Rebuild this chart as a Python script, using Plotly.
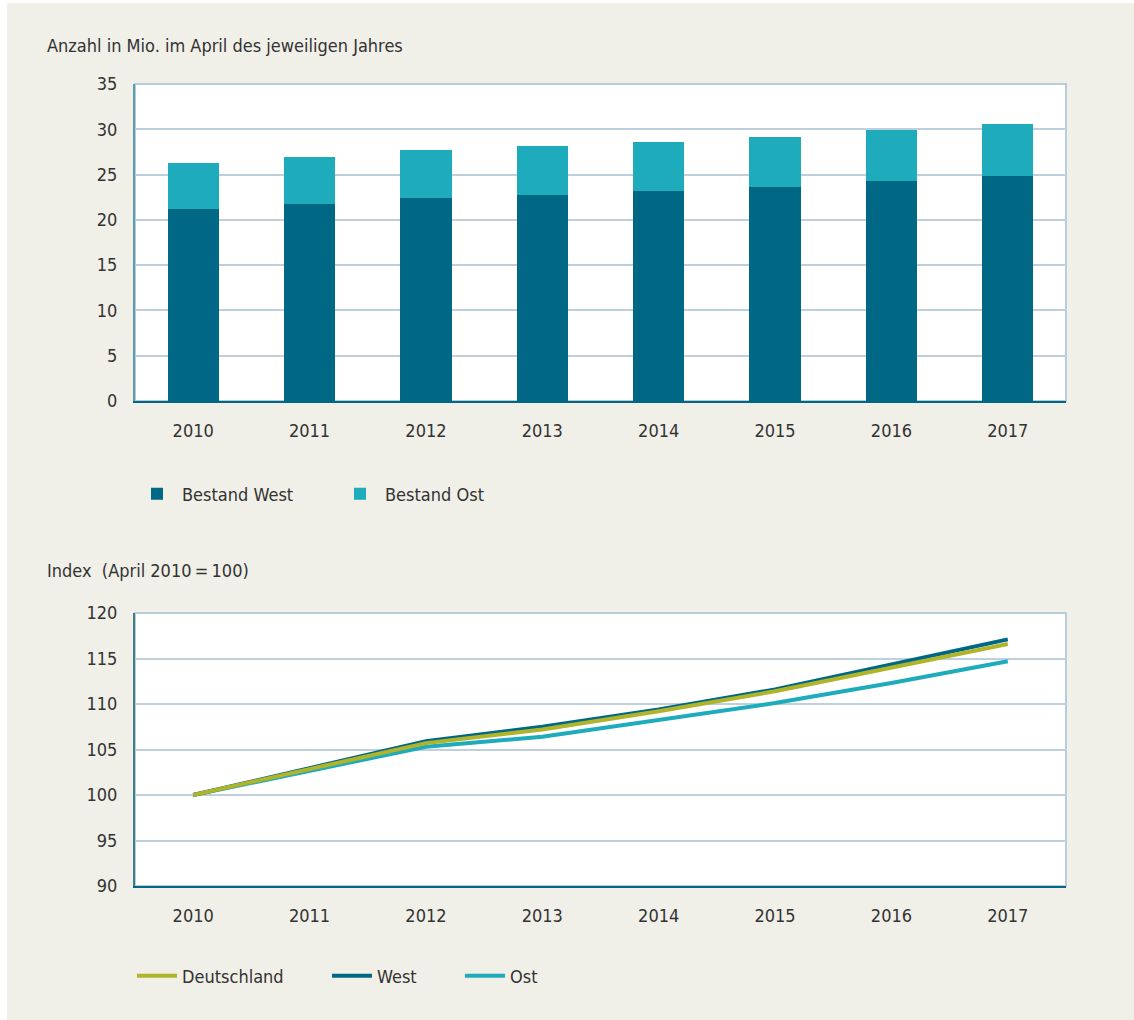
import plotly.graph_objects as go

years = ["2010", "2011", "2012", "2013", "2014", "2015", "2016", "2017"]
bestand_west = [21.2, 21.7, 22.4, 22.7, 23.2, 23.6, 24.3, 24.8]
bestand_ost = [5.1, 5.2, 5.3, 5.4, 5.4, 5.6, 5.6, 5.8]

idx_deutschland = [100.0, 102.8, 105.7, 107.2, 109.2, 111.4, 114.0, 116.6]
idx_west = [100.0, 102.9, 105.9, 107.5, 109.4, 111.6, 114.4, 117.1]
idx_ost = [100.0, 102.6, 105.3, 106.4, 108.3, 110.1, 112.3, 114.7]

title_top = "Anzahl in Mio. im April des jeweiligen Jahres"
title_bottom = "Index\u00a0\u00a0(April 2010\u2009=\u2009100)"

W, H = 1134, 1020
C_WEST = "#006884"
C_OST = "#1eabbc"
C_DE = "#b0b42a"
BG = "#f0efe8"
GRID = "#bfd0dc"
FONT = "DejaVu Sans Condensed, DejaVu Sans, sans-serif"
TXT = "#333333"
FS = 18

def fnt(size=FS):
    return dict(family=FONT, size=size, color=TXT)

def px(x):
    return x / W

def py(y):
    return 1 - y / H

fig = go.Figure()

fig.add_trace(go.Bar(x=years, y=bestand_west, name="Bestand West", marker_color=C_WEST,
                     marker_line_width=0, width=0.44, xaxis="x", yaxis="y", legend="legend"))
fig.add_trace(go.Bar(x=years, y=bestand_ost, name="Bestand Ost", marker_color=C_OST,
                     marker_line_width=0, width=0.44, xaxis="x", yaxis="y", legend="legend2"))

fig.add_trace(go.Scatter(x=years, y=idx_ost, name="Ost", mode="lines",
                         line=dict(color=C_OST, width=4), xaxis="x2", yaxis="y2", legend="legend5"))
fig.add_trace(go.Scatter(x=years, y=idx_west, name="West", mode="lines",
                         line=dict(color=C_WEST, width=4), xaxis="x2", yaxis="y2", legend="legend4"))
fig.add_trace(go.Scatter(x=years, y=idx_deutschland, name="Deutschland", mode="lines",
                         line=dict(color=C_DE, width=4), xaxis="x2", yaxis="y2", legend="legend3"))

x_dom = [px(135), px(1066)]
top_dom = [py(401), py(84)]
bot_dom = [py(886), py(613)]

common_x = dict(type="category", domain=x_dom, range=[-0.5, 7.5], showgrid=False, ticks="",
                tickfont=fnt(), showline=True, linewidth=2, linecolor=C_WEST,
                ticklabelstandoff=12, fixedrange=True, automargin=False)
common_y = dict(showgrid=True, gridcolor=GRID, gridwidth=1.5, ticks="", tickfont=fnt(),
                showline=True, linewidth=2, zeroline=False,
                ticklabelstandoff=12, fixedrange=True, automargin=False)

leg = dict(orientation="h", yanchor="middle", xanchor="left", bgcolor="rgba(0,0,0,0)",
           font=fnt(), itemwidth=40, xref="container", yref="container", visible=True)

fig.update_layout(
    width=W, height=H,
    margin=dict(l=0, r=0, t=0, b=0, autoexpand=False),
    paper_bgcolor=BG, plot_bgcolor="white",
    barmode="stack",
    showlegend=True,
    font=fnt(),
    xaxis=dict(common_x, anchor="y"),
    yaxis=dict(common_y, domain=top_dom, range=[0, 35], dtick=5, anchor="x", linecolor="#5b9bb0"),
    xaxis2=dict(common_x, anchor="y2"),
    yaxis2=dict(common_y, domain=bot_dom, range=[90, 120], dtick=5, anchor="x2", linecolor="#3f7f86"),
    legend=dict(leg, x=px(132), y=py(494)),
    legend2=dict(leg, x=px(335), y=py(494)),
    legend3=dict(leg, x=px(132), y=py(976)),
    legend4=dict(leg, x=px(327), y=py(976)),
    legend5=dict(leg, x=px(460), y=py(976)),
    annotations=[
        dict(text=title_top, xref="paper", yref="paper", x=px(45), y=py(46),
             xanchor="left", yanchor="middle", showarrow=False, font=fnt()),
        dict(text=title_bottom, xref="paper", yref="paper", x=px(45), y=py(570),
             xanchor="left", yanchor="middle", showarrow=False, font=fnt()),
    ],
    shapes=[
        dict(type="rect", xref="x domain", yref="y domain", x0=0, x1=1, y0=0, y1=1,
             line=dict(color="#b8ccd9", width=2), layer="below"),
        dict(type="rect", xref="x2 domain", yref="y2 domain", x0=0, x1=1, y0=0, y1=1,
             line=dict(color="#b8ccd9", width=2), layer="below"),
        dict(type="rect", xref="paper", yref="paper", x0=0, x1=px(7), y0=0, y1=1,
             fillcolor="white", line_width=0, layer="below"),
        dict(type="rect", xref="paper", yref="paper", x0=0, x1=1, y0=py(3), y1=1,
             fillcolor="white", line_width=0, layer="below"),
    ],
)

fig.write_html("out.html")
